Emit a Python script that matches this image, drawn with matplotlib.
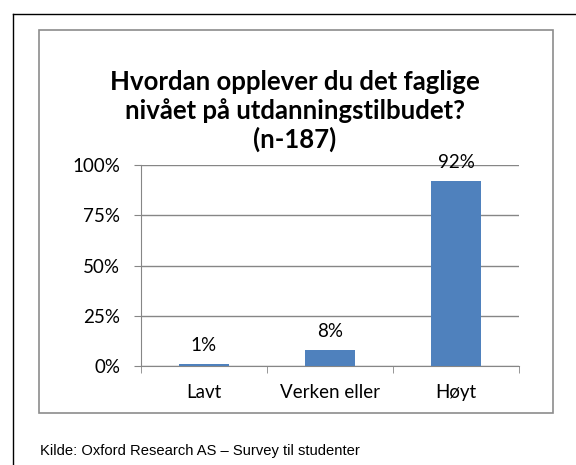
import matplotlib
matplotlib.use("Agg")
import matplotlib.pyplot as plt
from matplotlib.patches import Rectangle
from matplotlib.lines import Line2D
from matplotlib.ticker import FixedLocator

categories = ["Lavt", "Verken eller", "Høyt"]
values = [1, 8, 92]
yticks = [0, 25, 50, 75, 100]
title = "Hvordan opplever du det faglige\nnivået på utdanningstilbudet?\n(n-187)"
source = "Kilde: Oxford Research AS \u2013 Survey til studenter"

W, H = 576, 465
BAR, GRID, INK = "#4F81BD", "#868686", "#000000"
plt.rcParams["font.family"] = ["Lato", "DejaVu Sans"]

fig = plt.figure(figsize=(W / 100, H / 100), dpi=100)


def fx(x):
    return x / W


def fy(y):
    return 1 - y / H


# outer black frame (left + top only visible) and inner grey chart box
fig.add_artist(Line2D([fx(12.5), fx(12.5)], [fy(14), fy(H + 5)], color="black", lw=1))
fig.add_artist(Line2D([fx(12.5), fx(W + 5)], [fy(14), fy(14)], color="black", lw=1))
fig.add_artist(Rectangle((fx(38.5), fy(413)), fx(553 - 38.5), (413 - 30) / H,
                         fill=False, edgecolor="#8c8c8c", lw=1.2))

ax = fig.add_axes([fx(141), fy(366), fx(519 - 141), (366 - 165) / H])
x = range(len(categories))
ax.bar(x, values, width=0.4, color=BAR, zorder=3)
for xi, v in zip(x, values):
    ax.annotate(f"{v}%", (xi, v), xytext=(0, 7), textcoords="offset points",
                ha="center", va="bottom", fontsize=13.5, color=INK)

ax.set_xlim(-0.5, 2.5)
ax.set_ylim(0, 100)
ax.set_yticks(yticks)
ax.set_yticklabels([f"{t}%" for t in yticks])
ax.set_xticks(list(x))
ax.set_xticklabels(categories)
ax.xaxis.set_minor_locator(FixedLocator([-0.5, 0.5, 1.5, 2.5]))
ax.tick_params(axis="x", which="major", length=0, pad=13, labelsize=13.5, colors=INK)
ax.tick_params(axis="x", which="minor", length=5, color=GRID, direction="out")
ax.tick_params(axis="y", length=5, color=GRID, pad=10, labelsize=13.5, labelcolor=INK)
ax.grid(axis="y", color=GRID, lw=1, zorder=0)
for s in ["top", "right"]:
    ax.spines[s].set_visible(False)
for s in ["left", "bottom"]:
    ax.spines[s].set_color(GRID)
ax.set_axisbelow(True)

fig.text(fx(295), fy(111), title, ha="center", va="center", fontsize=18.5,
         fontweight="bold", color=INK, linespacing=1.2)
fig.text(fx(40), fy(451), source, ha="left", va="center", fontsize=10.6,
         family=["Liberation Sans", "DejaVu Sans"], color=INK)

fig.savefig("out.png", dpi=100)
